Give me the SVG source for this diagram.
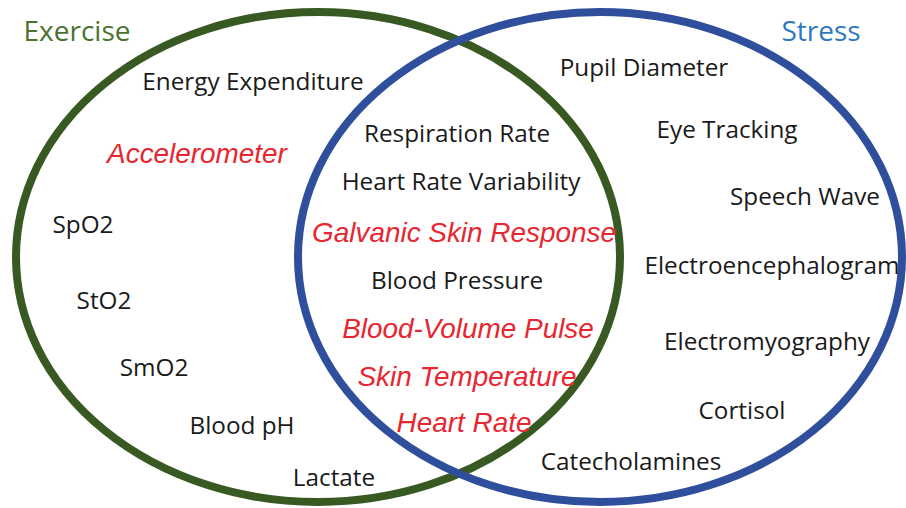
<svg xmlns="http://www.w3.org/2000/svg" width="906" height="508" viewBox="0 0 906 508">
<style>
.t{font-family:"Open Sans",Lato,"Liberation Sans",sans-serif;font-size:24.3px;fill:#1a1a1a;text-anchor:middle}
.r{font-family:"Liberation Sans",Arial,sans-serif;font-style:italic;font-size:27.9px;fill:#e8262f;text-anchor:middle}
.h{font-family:"Open Sans",Lato,"Liberation Sans",sans-serif;font-size:28px;text-anchor:middle}
</style>
<rect width="906" height="508" fill="#ffffff"/>
<g id="connectors"/>
<g id="exercise">
<ellipse cx="318" cy="257" rx="302" ry="245" fill="none" stroke="#385a22" stroke-width="8"/>
<text class="h" x="77" y="41" fill="#4a7332">Exercise</text>
</g>
<g id="stress">
<ellipse cx="600" cy="257" rx="302" ry="245" fill="none" stroke="#2f4f9c" stroke-width="8"/>
<text class="h" x="821" y="41" fill="#2f78c0">Stress</text>
</g>
<g id="exercise-items">
<text class="t" x="253" y="90">Energy Expenditure</text>
<text class="r" x="197" y="163">Accelerometer</text>
<text class="t" x="83" y="233">SpO2</text>
<text class="t" x="104" y="309">StO2</text>
<text class="t" x="154" y="376">SmO2</text>
<text class="t" x="242" y="434">Blood pH</text>
<text class="t" x="334" y="486">Lactate</text>
</g>
<g id="shared-items">
<text class="t" x="457" y="142">Respiration Rate</text>
<text class="t" x="461" y="190">Heart Rate Variability</text>
<text class="r" x="464" y="242">Galvanic Skin Response</text>
<text class="t" x="457" y="289">Blood Pressure</text>
<text class="r" x="468" y="338">Blood-Volume Pulse</text>
<text class="r" x="467" y="386">Skin Temperature</text>
<text class="r" x="464" y="432">Heart Rate</text>
</g>
<g id="stress-items">
<text class="t" x="644" y="76">Pupil Diameter</text>
<text class="t" x="727" y="138">Eye Tracking</text>
<text class="t" x="805" y="205">Speech Wave</text>
<text class="t" x="772" y="274">Electroencephalogram</text>
<text class="t" x="767" y="350">Electromyography</text>
<text class="t" x="742" y="419">Cortisol</text>
<text class="t" x="631" y="470">Catecholamines</text>
</g>
</svg>
